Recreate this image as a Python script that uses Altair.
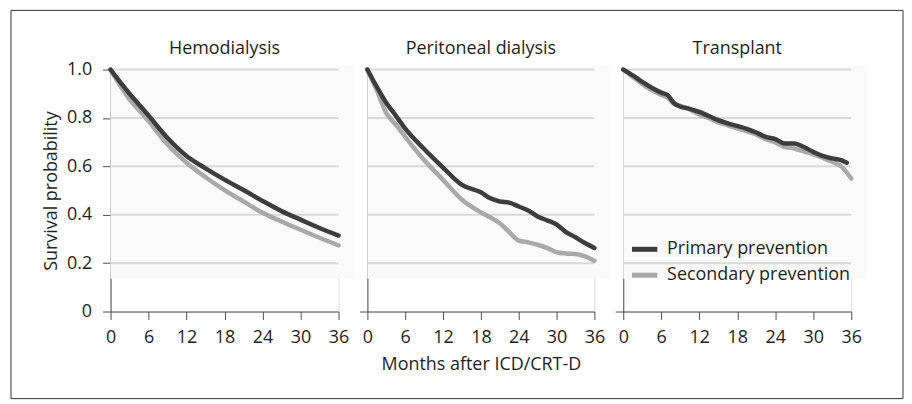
import altair as alt
import pandas as pd

panels = ["Hemodialysis", "Peritoneal dialysis", "Transplant"]
series = ["Primary prevention", "Secondary prevention"]

hd_months = [0, 1.5, 3, 4.5, 6, 9, 12, 15, 18, 21, 24, 27, 30, 33, 36]
hd_primary = [1.0, 0.949, 0.90, 0.855, 0.81, 0.717, 0.643, 0.592, 0.545, 0.502, 0.457, 0.415, 0.38, 0.345, 0.314]
hd_secondary = [1.0, 0.935, 0.877, 0.832, 0.787, 0.69, 0.615, 0.555, 0.502, 0.455, 0.408, 0.372, 0.338, 0.305, 0.274]

pd_months = [0, 1.5, 3, 4.5, 6, 9, 12, 15, 18, 19.5, 21, 22.5, 24, 25.5, 27, 28.5, 30, 31.5, 33, 34.5, 36]
pd_primary = [1.0, 0.928, 0.862, 0.81, 0.756, 0.672, 0.595, 0.523, 0.493, 0.468, 0.455, 0.45, 0.434,
              0.418, 0.393, 0.377, 0.36, 0.328, 0.307, 0.283, 0.263]
pd_secondary = [1.0, 0.914, 0.82, 0.773, 0.722, 0.626, 0.544, 0.462, 0.41, 0.389, 0.365, 0.328, 0.293,
                0.286, 0.276, 0.263, 0.245, 0.24, 0.238, 0.228, 0.21]

tx_months_p = [0, 1.5, 3, 4.5, 6, 7, 8, 9, 10.5, 12, 13.5, 15, 16.5, 18, 19.5, 21, 22.5, 24, 25.5, 27,
               28.5, 30, 31.5, 33, 34.5, 35.3]
tx_primary = [1.0, 0.976, 0.949, 0.925, 0.905, 0.895, 0.862, 0.847, 0.838, 0.825, 0.808, 0.791, 0.778,
              0.767, 0.755, 0.74, 0.722, 0.713, 0.695, 0.695, 0.68, 0.66, 0.643, 0.633, 0.625, 0.615]
tx_months_s = [0, 1.5, 3, 4.5, 6, 7, 8, 9, 10.5, 12, 13.5, 15, 16.5, 18, 19.5, 21, 22.5, 24, 25.5, 27,
               28.5, 30, 31.5, 33, 34.5, 36]
tx_secondary = [1.0, 0.97, 0.94, 0.915, 0.895, 0.885, 0.858, 0.85, 0.835, 0.815, 0.8, 0.782, 0.77,
                0.757, 0.745, 0.732, 0.712, 0.699, 0.68, 0.674, 0.662, 0.65, 0.635, 0.619, 0.598, 0.55]

x_ticks = [0, 6, 12, 18, 24, 30, 36]
y_ticks = [0, 0.2, 0.4, 0.6, 0.8, 1.0]
grid_values = [0.2, 0.4, 0.6, 0.8, 1.0]

rows = []
def add(panel, s, months, vals):
    for m, v in zip(months, vals):
        rows.append({"panel": panel, "series": s, "month": m, "surv": v})

add(panels[0], series[0], hd_months, hd_primary)
add(panels[0], series[1], hd_months, hd_secondary)
add(panels[1], series[0], pd_months, pd_primary)
add(panels[1], series[1], pd_months, pd_secondary)
add(panels[2], series[0], tx_months_p, tx_primary)
add(panels[2], series[1], tx_months_s, tx_secondary)
df = pd.DataFrame(rows)
grid_df = pd.DataFrame({"surv": grid_values})

FONT = "Open Sans"
FS = 18
TXT = "#231f20"
AX = "#4d4d4d"
DARK = "#3d3d3d"
LIGHT = "#a9a9a9"
W = [229, 228, 229]
H = 243
dummy = pd.DataFrame({"a": [0]})


def make_panel(i):
    name = panels[i]
    d = df[df.panel == name]
    first = i == 0
    xaxis = alt.Axis(values=x_ticks, tickSize=8, labelFontSize=FS, labelFont=FONT, labelColor=TXT,
                     labelPadding=9, domainColor=AX, tickColor=AX, grid=False,
                     title="Months after ICD/CRT-D" if i == 1 else None,
                     titleFontSize=FS, titleFont=FONT, titleFontWeight="normal", titleColor=TXT,
                     titlePadding=9, labelFlush=False)
    if first:
        yaxis = alt.Axis(values=y_ticks, tickSize=8, labelFontSize=FS, labelFont=FONT, labelColor=TXT,
                         labelPadding=11, domainColor=AX, tickColor=AX, grid=False,
                         labelExpr="datum.value == 0 ? '0' : format(datum.value, '.1f')",
                         title="Survival probability", titleFontSize=FS, titleFont=FONT,
                         titleFontWeight="normal", titleColor=TXT, titlePadding=6)
    else:
        yaxis = alt.Axis(values=y_ticks, tickSize=8, labels=False, domainColor=AX, tickColor=AX,
                         grid=False, title=None,
                         tickOpacity={"condition": {"test": "datum.value === 0", "value": 1}, "value": 0})
    x = alt.X("month:Q", scale=alt.Scale(domain=[0, 36], nice=False), axis=xaxis)
    yscale = alt.Scale(domain=[0, 1], nice=False)
    y = alt.Y("surv:Q", scale=yscale, axis=yaxis)
    if i == 2:
        legend = alt.Legend(title=None, orient="none", legendX=6, legendY=165, symbolType="stroke",
                            symbolStrokeWidth=5, symbolSize=650, labelFontSize=FS, labelFont=FONT,
                            labelColor=TXT, rowPadding=0, labelOffset=7, labelLimit=0)
    else:
        legend = None
    color = alt.Color("series:N", scale=alt.Scale(domain=series, range=[DARK, LIGHT]), legend=legend)

    bg = alt.Chart(dummy).mark_rect(color="#fafafa").encode(
        x=alt.value(0), x2=alt.value(W[i] + 16), y=alt.value(-4), y2=alt.value(210))
    grid = alt.Chart(grid_df).mark_rule(color="#dadada", strokeWidth=2).encode(
        y=alt.Y("surv:Q", scale=yscale, axis=yaxis))
    title = alt.Chart(dummy).mark_text(fontSize=FS, font=FONT, color=TXT, align="center",
                                       baseline="middle").encode(
        x=alt.value(W[i] / 2), y=alt.value(-21), text=alt.value(name))
    base = alt.Chart(d)
    l2 = base.transform_filter(alt.datum.series == series[1]).mark_line(
        strokeWidth=4.5, strokeCap="round", strokeJoin="round", interpolate="monotone").encode(
        x=x, y=y, color=color)
    l1 = base.transform_filter(alt.datum.series == series[0]).mark_line(
        strokeWidth=4.5, strokeCap="round", strokeJoin="round", interpolate="monotone").encode(
        x=x, y=y, color=color)
    layers = [bg, grid, title, l2, l1]
    if first:
        frame = alt.Chart(dummy).mark_rect(fillOpacity=0, stroke="#333333", strokeWidth=1).encode(
            x=alt.value(-100), x2=alt.value(796), y=alt.value(-59.5), y2=alt.value(330.5))
        layers = [frame] + layers
    return alt.layer(*layers).properties(width=W[i], height=H)


chart = alt.hconcat(make_panel(0), make_panel(1), make_panel(2), spacing=29, bounds="flush").resolve_legend(
    color="independent").properties(
    padding={"left": 2, "top": 0, "right": 0, "bottom": 0}
).configure_view(stroke=None).configure(font=FONT)

chart.save("out.html", embed_options={"renderer": "svg", "actions": False})
